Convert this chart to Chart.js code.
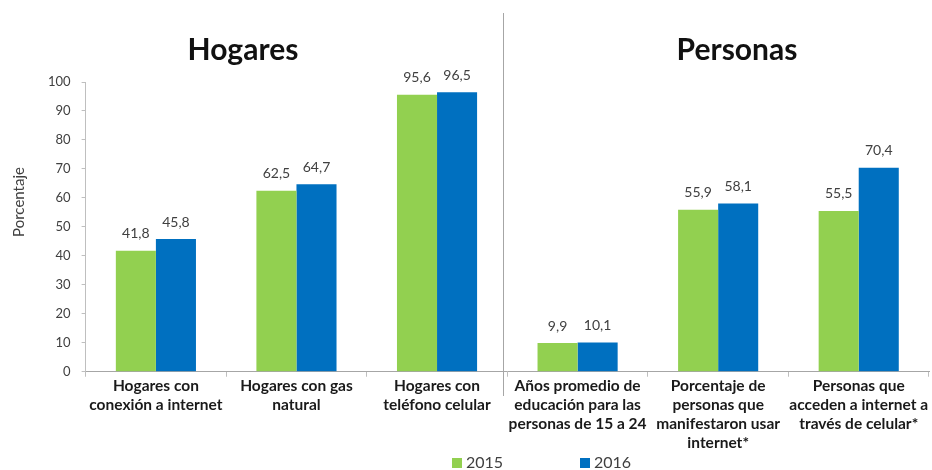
<!DOCTYPE html>
<html>
<head>
<meta charset="utf-8">
<script src="https://cdn.jsdelivr.net/npm/chart.js@4.4.1/dist/chart.umd.min.js"></script>
<style>
  html, body { margin: 0; padding: 0; background: #fff; }
  #wrap { width: 932px; height: 470px; }
</style>
</head>
<body>
<div id="wrap"><canvas id="chart"></canvas></div>
<script>
const categories = [
  ['Hogares con', 'conexión a internet'],
  ['Hogares con gas', 'natural'],
  ['Hogares con', 'teléfono celular'],
  ['Años promedio de', 'educación para las', 'personas de 15 a 24'],
  ['Porcentaje de', 'personas que', 'manifestaron usar', 'internet*'],
  ['Personas que', 'acceden a internet a', 'través de celular*']
];
const values2015 = [41.8, 62.5, 95.6, 9.9, 55.9, 55.5];
const values2016 = [45.8, 64.7, 96.5, 10.1, 58.1, 70.4];
const seriesNames = ['2015', '2016'];
const groupTitles = ['Hogares', 'Personas'];
const yTitle = 'Porcentaje';

const green = '#92D050';
const blue = '#0070C0';
const font = 'Lato, sans-serif';

const fmt = v => v.toFixed(1).replace('.', ',');

const extras = {
  id: 'extras',
  afterDatasetsDraw(chart) {
    const ctx = chart.ctx;
    const x = chart.scales.x;

    // data labels
    ctx.save();
    ctx.font = '14px ' + font;
    ctx.fillStyle = '#404040';
    ctx.textAlign = 'center';
    ctx.textBaseline = 'bottom';
    chart.data.datasets.forEach((ds, i) => {
      chart.getDatasetMeta(i).data.forEach((bar, j) => {
        ctx.fillText(fmt(ds.data[j]), bar.x, bar.y - 10);
      });
    });

    // divider between groups
    const divX = (x.getPixelForValue(2) + x.getPixelForValue(3)) / 2 - 4;
    ctx.strokeStyle = '#a6a6a6';
    ctx.lineWidth = 1;
    ctx.beginPath();
    ctx.moveTo(Math.round(divX) + 0.5, 13);
    ctx.lineTo(Math.round(divX) + 0.5, 396);
    ctx.stroke();

    // group titles
    ctx.font = 'bold 30px ' + font;
    ctx.fillStyle = '#111';
    ctx.textBaseline = 'middle';
    ctx.fillText(groupTitles[0], 243, 50);
    ctx.fillText(groupTitles[1], 737, 50);

    // y axis title
    ctx.save();
    ctx.translate(19, 202);
    ctx.rotate(-Math.PI / 2);
    ctx.font = '15px ' + font;
    ctx.fillStyle = '#404040';
    ctx.fillText(yTitle, 0, 0);
    ctx.restore();

    // legend
    const colors = [green, blue];
    const lx = [452, 580];
    ctx.font = '16px ' + font;
    ctx.textAlign = 'left';
    seriesNames.forEach((name, i) => {
      ctx.fillStyle = colors[i];
      ctx.fillRect(lx[i], 458, 10, 10);
      ctx.fillStyle = '#404040';
      ctx.fillText(name, lx[i] + 14, 463);
    });
    ctx.restore();
  }
};

new Chart(document.getElementById('chart'), {
  type: 'bar',
  data: {
    labels: categories,
    datasets: [
      { label: seriesNames[0], data: values2015, backgroundColor: green },
      { label: seriesNames[1], data: values2016, backgroundColor: blue }
    ]
  },
  options: {
    responsive: true,
    maintainAspectRatio: false,
    animation: false,
    categoryPercentage: 0.57,
    barPercentage: 1,
    layout: { padding: { top: 82, right: 3, bottom: 17, left: 37 } },
    plugins: {
      legend: { display: false },
      tooltip: { enabled: false }
    },
    scales: {
      x: {
        grid: { offset: true, drawOnChartArea: false, tickLength: 5, color: '#bfbfbf' },
        border: { color: '#a6a6a6' },
        ticks: {
          color: '#1a1a1a',
          font: { family: font, size: 15.5, weight: 'bold', lineHeight: 1.23 },
          maxRotation: 0,
          autoSkip: false,
          padding: 0
        }
      },
      y: {
        min: 0,
        max: 100,
        grid: { drawOnChartArea: false, tickLength: 4, color: '#bfbfbf' },
        border: { color: '#bfbfbf' },
        ticks: {
          stepSize: 10,
          color: '#404040',
          font: { family: font, size: 13 },
          padding: 11
        }
      }
    }
  },
  plugins: [extras]
});
</script>
</body>
</html>
